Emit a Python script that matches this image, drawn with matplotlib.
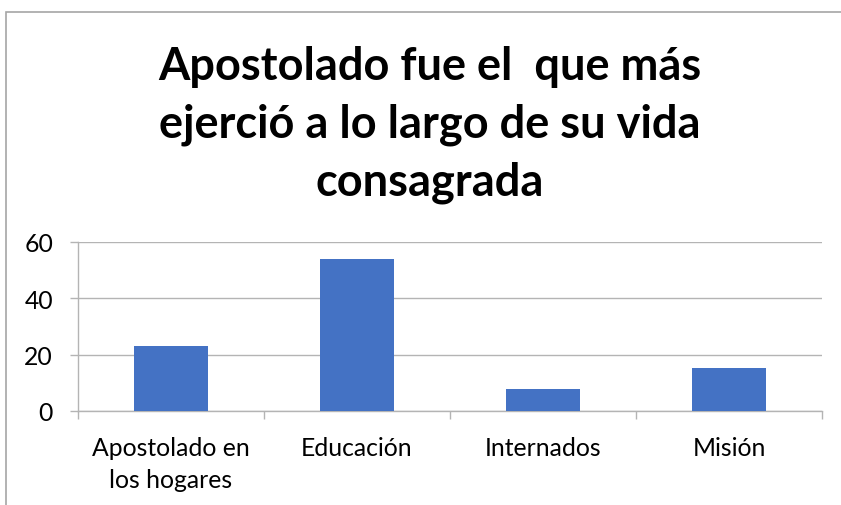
import matplotlib.pyplot as plt
from matplotlib.patches import Rectangle

# Chart data
categories = ["Apostolado en\nlos hogares", "Educación", "Internados", "Misión"]
values = [23.1, 53.8, 7.7, 15.4]
y_ticks = [0, 20, 40, 60]
title = "Apostolado fue el  que más\nejerció a lo largo de su vida\nconsagrada"

bar_color = "#4472C4"
grid_color = "#B4B4B4"

plt.rcParams['font.family'] = ['Lato', 'DejaVu Sans']

fig = plt.figure(figsize=(8.41, 5.06), dpi=100)
ax = fig.add_axes([78 / 841, 1 - 412 / 506, 744 / 841, 169 / 506])

x = list(range(len(categories)))
ax.bar(x, values, width=0.4, color=bar_color, zorder=3)

ax.set_xlim(-0.5, len(categories) - 0.5)
ax.set_ylim(0, 60)
ax.set_yticks(y_ticks)
ax.set_xticks(x)
ax.set_xticklabels(categories, fontsize=17.8, linespacing=1.5)
ax.set_xticks([i - 0.5 for i in range(len(categories) + 1)], minor=True)

ax.tick_params(axis='x', which='major', length=0, pad=18)
ax.tick_params(axis='x', which='minor', length=6, width=1, color=grid_color)
ax.tick_params(axis='y', length=6, width=1, color=grid_color, labelsize=17.8, pad=12)

ax.grid(axis='y', color=grid_color, linewidth=1, zorder=0)
for side in ['top', 'right']:
    ax.spines[side].set_visible(False)
for side in ['left', 'bottom']:
    ax.spines[side].set_color(grid_color)
    ax.spines[side].set_linewidth(1)

fig.text(430 / 841, 1 - 46 / 506, title, ha='center', va='top',
         fontsize=32.5, fontweight='bold', linespacing=1.45)

# outer chart border (cropped on right/bottom like the screenshot)
fig.add_artist(Rectangle((6 / 841, -0.1), 1.2, 1 - 13 / 506 + 0.1,
                         transform=fig.transFigure, fill=False,
                         edgecolor="#A6A6A6", linewidth=1.2))

fig.savefig("out.png", dpi=100)
